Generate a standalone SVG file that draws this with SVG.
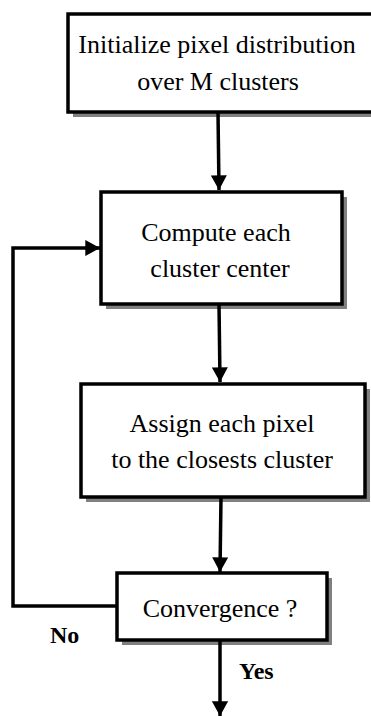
<svg xmlns="http://www.w3.org/2000/svg" width="371" height="716" viewBox="0 0 371 716">
<style>
.box{fill:#fff;stroke:#000;stroke-width:3.5}
.shadow{fill:#808080}
.t{font-size:26px;fill:#000;text-anchor:middle}
.b{font-size:24px;font-weight:bold;fill:#000}
.c{fill:none;stroke:#000;stroke-width:3.5}
</style>
<defs>
<marker id="ah" markerWidth="4.2" markerHeight="4.6" refX="4.2" refY="2.3" orient="auto" markerUnits="strokeWidth">
<path d="M0,0 L4.2,2.3 L0,4.6 Z" fill="#000"/>
</marker>
</defs>
<g id="n1" font-family="Liberation Serif, serif">
<rect class="shadow" x="73" y="19" width="310" height="98"/>
<rect class="box" x="68" y="14" width="310" height="98"/>
<text class="t" x="217" y="53">Initialize pixel distribution</text>
<text class="t" x="218" y="90">over M clusters</text>
</g>
<g id="n2" font-family="Liberation Serif, serif">
<rect class="shadow" x="106" y="197" width="241" height="112"/>
<rect class="box" x="101" y="192" width="241" height="112"/>
<text class="t" x="216" y="241">Compute each</text>
<text class="t" x="220" y="277">cluster center</text>
</g>
<g id="n3" font-family="Liberation Serif, serif">
<rect class="shadow" x="86" y="389" width="284" height="113"/>
<rect class="box" x="81" y="384" width="284" height="113"/>
<text class="t" x="222" y="432">Assign each pixel</text>
<text class="t" x="222" y="468">to the closests cluster</text>
</g>
<g id="n4" font-family="Liberation Serif, serif">
<rect class="shadow" x="122" y="578" width="210" height="67"/>
<rect class="box" x="117" y="573" width="210" height="67"/>
<text class="t" x="220" y="617">Convergence ?</text>
</g>
<g id="labels" font-family="Liberation Serif, serif">
<text class="b" x="50" y="643">No</text>
<text class="b" x="239" y="679">Yes</text>
</g>
<g id="connectors">
<line class="c" x1="218" y1="112" x2="219" y2="190" marker-end="url(#ah)"/>
<line class="c" x1="219" y1="304" x2="220" y2="382" marker-end="url(#ah)"/>
<line class="c" x1="221" y1="497" x2="220" y2="572" marker-end="url(#ah)"/>
<line class="c" x1="220" y1="640" x2="220" y2="716" marker-end="url(#ah)"/>
<polyline class="c" points="117,606 13,606 13,248 100,248" marker-end="url(#ah)"/>
</g>
</svg>
